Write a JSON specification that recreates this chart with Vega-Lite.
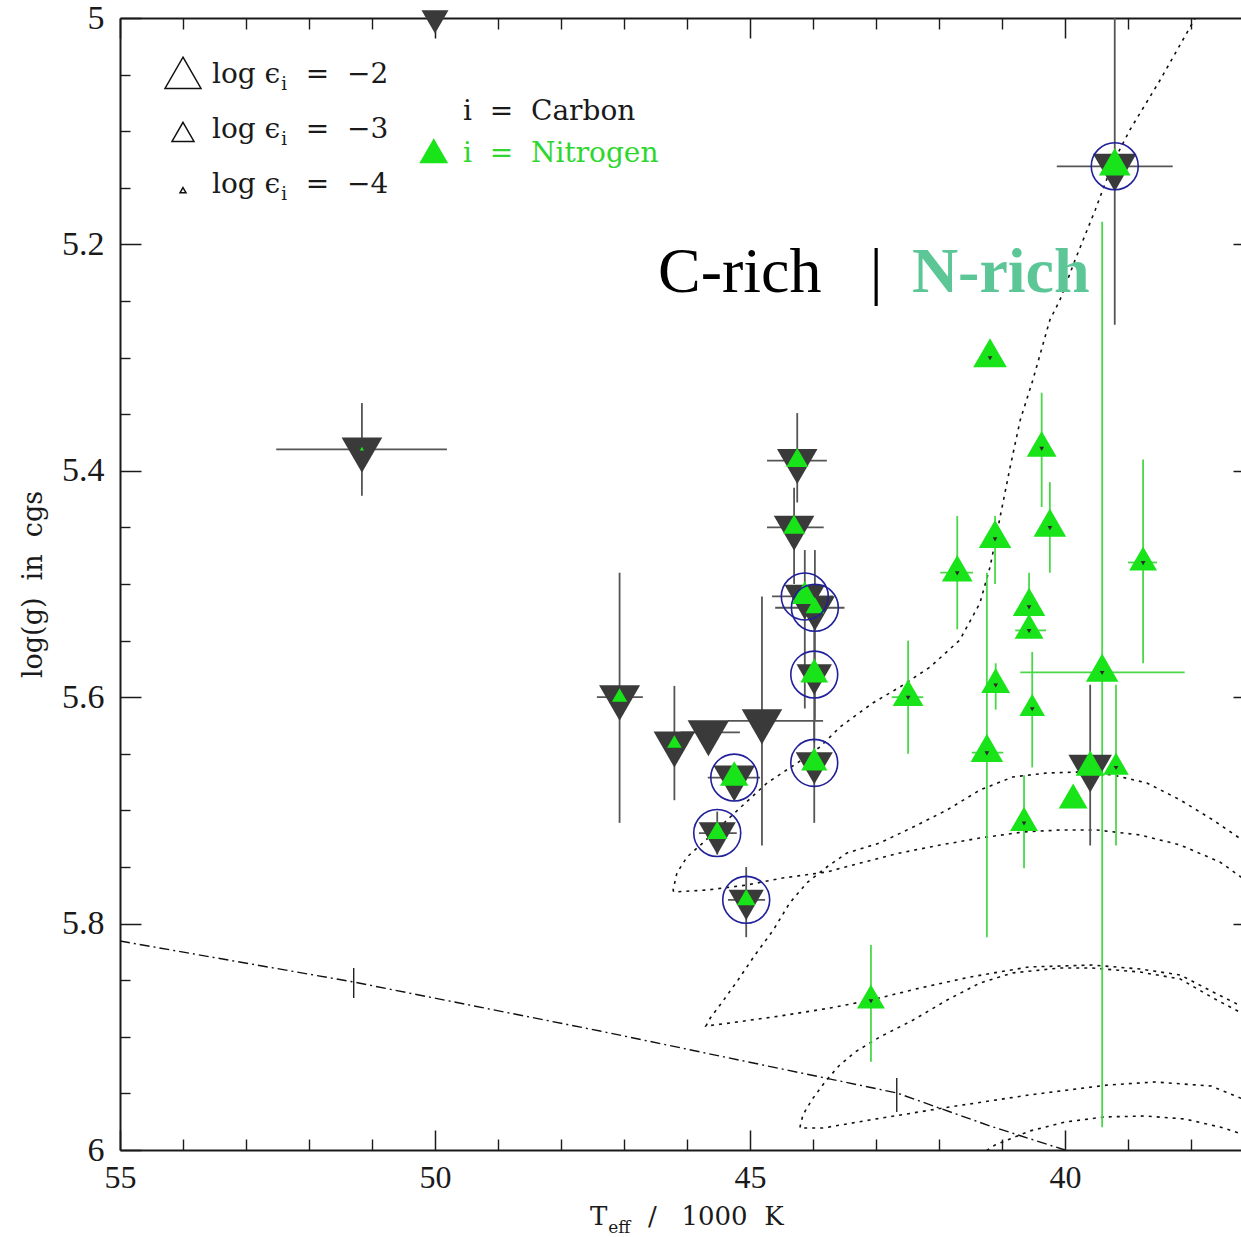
{
  "$schema": "https://vega.github.io/schema/vega-lite/v6.json",
  "width": 1121,
  "height": 1132,
  "autosize": {"type": "none"},
  "padding": {"left": 120, "top": 18, "right": 0, "bottom": 87},
  "background": "white",
  "config": {"view": {"stroke": null}, "axis": {"grid": false}},
  "resolve": {
    "scale": {"x": "independent", "y": "independent"},
    "axis": {"x": "independent", "y": "independent"}
  },
  "datasets": {
    "stars": [
      {"id": "S1", "type": "C", "T": 50.00, "g": 5.000, "logC": -2.7, "logN": -4.5, "ring": 0},
      {"id": "S2", "type": "C", "T": 51.16, "g": 5.381, "logC": -1.7, "logN": -4.2, "ring": 0},
      {"id": "S3", "type": "C", "T": 47.07, "g": 5.600, "logC": -1.68, "logN": -3.55, "ring": 0},
      {"id": "S4", "type": "C", "T": 46.20, "g": 5.641, "logC": -1.64, "logN": -3.6, "ring": 0},
      {"id": "S5", "type": "C", "T": 45.66, "g": 5.631, "logC": -1.64, "logN": -4.5, "ring": 0},
      {"id": "S6", "type": "C", "T": 44.81, "g": 5.621, "logC": -1.71, "logN": -4.5, "ring": 0},
      {"id": "S7", "type": "C", "T": 44.25, "g": 5.391, "logC": -1.71, "logN": -3.0, "ring": 0},
      {"id": "S8", "type": "C", "T": 44.30, "g": 5.450, "logC": -1.71, "logN": -3.0, "ring": 0},
      {"id": "S9", "type": "C", "T": 44.13, "g": 5.511, "logC": -1.71, "logN": -2.75, "ring": 1},
      {"id": "S10", "type": "C", "T": 43.97, "g": 5.521, "logC": -1.75, "logN": -3.3, "ring": 1},
      {"id": "S11", "type": "C", "T": 43.98, "g": 5.580, "logC": -2.05, "logN": -2.65, "ring": 1},
      {"id": "S12", "type": "C", "T": 43.98, "g": 5.658, "logC": -1.93, "logN": -2.75, "ring": 1},
      {"id": "S13", "type": "C", "T": 45.25, "g": 5.671, "logC": -1.64, "logN": -2.6, "ring": 1},
      {"id": "S14", "type": "C", "T": 45.52, "g": 5.720, "logC": -1.93, "logN": -3.13, "ring": 1},
      {"id": "S15", "type": "C", "T": 45.06, "g": 5.779, "logC": -2.07, "logN": -3.3, "ring": 1},
      {"id": "S16", "type": "C", "T": 39.21, "g": 5.131, "logC": -1.5, "logN": -2.36, "ring": 1},
      {"id": "S17", "type": "C", "T": 39.60, "g": 5.662, "logC": -1.5, "logN": -2.55, "ring": 0},
      {"id": "N1", "type": "N", "T": 41.19, "g": 5.300, "logC": -4.15, "logN": -2.2, "ring": 0},
      {"id": "N2", "type": "N", "T": 40.37, "g": 5.380, "logC": -4.15, "logN": -2.5, "ring": 0},
      {"id": "N3", "type": "N", "T": 40.24, "g": 5.450, "logC": -4.15, "logN": -2.29, "ring": 0},
      {"id": "N4", "type": "N", "T": 41.11, "g": 5.460, "logC": -4.15, "logN": -2.29, "ring": 0},
      {"id": "N5", "type": "N", "T": 41.71, "g": 5.490, "logC": -4.15, "logN": -2.43, "ring": 0},
      {"id": "N6", "type": "N", "T": 38.76, "g": 5.481, "logC": -4.15, "logN": -2.64, "ring": 0},
      {"id": "N7", "type": "N", "T": 40.57, "g": 5.520, "logC": -4.15, "logN": -2.29, "ring": 0},
      {"id": "N8", "type": "N", "T": 40.57, "g": 5.541, "logC": -4.15, "logN": -2.57, "ring": 0},
      {"id": "N9", "type": "N", "T": 42.49, "g": 5.600, "logC": -4.15, "logN": -2.43, "ring": 0},
      {"id": "N10", "type": "N", "T": 41.10, "g": 5.589, "logC": -4.15, "logN": -2.57, "ring": 0},
      {"id": "N11", "type": "N", "T": 40.52, "g": 5.610, "logC": -4.15, "logN": -2.79, "ring": 0},
      {"id": "N12", "type": "N", "T": 41.24, "g": 5.649, "logC": -4.15, "logN": -2.29, "ring": 0},
      {"id": "N13", "type": "N", "T": 39.41, "g": 5.578, "logC": -4.15, "logN": -2.29, "ring": 0},
      {"id": "N14", "type": "N", "T": 39.19, "g": 5.662, "logC": -4.15, "logN": -2.79, "ring": 0},
      {"id": "N15", "type": "N", "T": 39.87, "g": 5.691, "logC": -4.4, "logN": -2.57, "ring": 0},
      {"id": "N16", "type": "N", "T": 40.65, "g": 5.711, "logC": -4.15, "logN": -2.64, "ring": 0},
      {"id": "N17", "type": "N", "T": 43.08, "g": 5.868, "logC": -4.15, "logN": -2.64, "ring": 0}
    ],
    "vbars": [
      {"type": "C", "T": 51.16, "glo": 5.340, "ghi": 5.422},
      {"type": "C", "T": 47.07, "glo": 5.490, "ghi": 5.711},
      {"type": "C", "T": 46.20, "glo": 5.590, "ghi": 5.691},
      {"type": "C", "T": 44.81, "glo": 5.511, "ghi": 5.731},
      {"type": "C", "T": 44.25, "glo": 5.349, "ghi": 5.428},
      {"type": "C", "T": 44.30, "glo": 5.415, "ghi": 5.500},
      {"type": "C", "T": 44.13, "glo": 5.470, "ghi": 5.610},
      {"type": "C", "T": 43.97, "glo": 5.470, "ghi": 5.620},
      {"type": "C", "T": 43.98, "glo": 5.530, "ghi": 5.640},
      {"type": "C", "T": 43.98, "glo": 5.620, "ghi": 5.711},
      {"type": "C", "T": 45.52, "glo": 5.701, "ghi": 5.739},
      {"type": "C", "T": 45.06, "glo": 5.750, "ghi": 5.812},
      {"type": "C", "T": 39.21, "glo": 5.000, "ghi": 5.271},
      {"type": "C", "T": 39.60, "glo": 5.589, "ghi": 5.731},
      {"type": "N", "T": 40.37, "glo": 5.331, "ghi": 5.432},
      {"type": "N", "T": 40.24, "glo": 5.410, "ghi": 5.490},
      {"type": "N", "T": 41.11, "glo": 5.440, "ghi": 5.500},
      {"type": "N", "T": 41.71, "glo": 5.440, "ghi": 5.540},
      {"type": "N", "T": 38.76, "glo": 5.390, "ghi": 5.570},
      {"type": "N", "T": 40.57, "glo": 5.490, "ghi": 5.540},
      {"type": "N", "T": 42.49, "glo": 5.550, "ghi": 5.650},
      {"type": "N", "T": 41.10, "glo": 5.570, "ghi": 5.611},
      {"type": "N", "T": 40.52, "glo": 5.560, "ghi": 5.662},
      {"type": "N", "T": 41.24, "glo": 5.490, "ghi": 5.812},
      {"type": "N", "T": 39.41, "glo": 5.180, "ghi": 5.980},
      {"type": "N", "T": 39.19, "glo": 5.589, "ghi": 5.731},
      {"type": "N", "T": 40.65, "glo": 5.669, "ghi": 5.751},
      {"type": "N", "T": 43.08, "glo": 5.819, "ghi": 5.922}
    ],
    "hbars": [
      {"type": "C", "g": 5.381, "Tlo": 52.52, "Thi": 49.81},
      {"type": "C", "g": 5.600, "Tlo": 47.43, "Thi": 46.70},
      {"type": "C", "g": 5.631, "Tlo": 46.10, "Thi": 45.16},
      {"type": "C", "g": 5.621, "Tlo": 45.35, "Thi": 43.84},
      {"type": "C", "g": 5.391, "Tlo": 44.73, "Thi": 43.78},
      {"type": "C", "g": 5.450, "Tlo": 44.73, "Thi": 43.83},
      {"type": "C", "g": 5.511, "Tlo": 44.65, "Thi": 43.68},
      {"type": "C", "g": 5.521, "Tlo": 44.60, "Thi": 43.50},
      {"type": "C", "g": 5.671, "Tlo": 45.67, "Thi": 44.84},
      {"type": "C", "g": 5.720, "Tlo": 45.81, "Thi": 45.21},
      {"type": "C", "g": 5.779, "Tlo": 45.35, "Thi": 44.76},
      {"type": "C", "g": 5.131, "Tlo": 40.13, "Thi": 38.29},
      {"type": "N", "g": 5.490, "Tlo": 41.98, "Thi": 41.46},
      {"type": "N", "g": 5.481, "Tlo": 39.00, "Thi": 38.54},
      {"type": "N", "g": 5.541, "Tlo": 40.79, "Thi": 40.30},
      {"type": "N", "g": 5.600, "Tlo": 42.75, "Thi": 42.25},
      {"type": "N", "g": 5.649, "Tlo": 41.48, "Thi": 40.98},
      {"type": "N", "g": 5.578, "Tlo": 40.71, "Thi": 38.10}
    ],
    "tracks": [
      {"t": "A", "k": 1, "T": 37.86, "g": 4.993}, {"t": "A", "k": 2, "T": 38.49, "g": 5.0548},
      {"t": "A", "k": 3, "T": 38.97, "g": 5.0989}, {"t": "A", "k": 4, "T": 39.24, "g": 5.1281},
      {"t": "A", "k": 5, "T": 39.52, "g": 5.1696}, {"t": "A", "k": 6, "T": 39.84, "g": 5.2138},
      {"t": "A", "k": 7, "T": 40.08, "g": 5.2491}, {"t": "A", "k": 8, "T": 40.24, "g": 5.2668},
      {"t": "A", "k": 9, "T": 40.51, "g": 5.3198}, {"t": "A", "k": 10, "T": 40.71, "g": 5.3551},
      {"t": "A", "k": 11, "T": 40.87, "g": 5.3966}, {"t": "A", "k": 12, "T": 41.03, "g": 5.4408},
      {"t": "A", "k": 13, "T": 41.19, "g": 5.4850}, {"t": "A", "k": 14, "T": 41.35, "g": 5.5168},
      {"t": "A", "k": 15, "T": 41.67, "g": 5.5495}, {"t": "A", "k": 16, "T": 42.14, "g": 5.5733},
      {"t": "A", "k": 17, "T": 42.62, "g": 5.5910}, {"t": "A", "k": 18, "T": 43.05, "g": 5.6051},
      {"t": "A", "k": 19, "T": 43.57, "g": 5.6263}, {"t": "A", "k": 20, "T": 43.89, "g": 5.6440},
      {"t": "A", "k": 21, "T": 44.25, "g": 5.6581}, {"t": "A", "k": 22, "T": 44.73, "g": 5.6758},
      {"t": "A", "k": 23, "T": 45.16, "g": 5.6979}, {"t": "A", "k": 24, "T": 45.75, "g": 5.7288},
      {"t": "A", "k": 25, "T": 46.00, "g": 5.7412}, {"t": "A", "k": 26, "T": 46.16, "g": 5.7553},
      {"t": "A", "k": 27, "T": 46.22, "g": 5.7703}, {"t": "A", "k": 28, "T": 46.21, "g": 5.7721},
      {"t": "A", "k": 29, "T": 45.68, "g": 5.7703}, {"t": "A", "k": 30, "T": 45.05, "g": 5.7659},
      {"t": "A", "k": 31, "T": 44.48, "g": 5.7597}, {"t": "A", "k": 32, "T": 43.78, "g": 5.7544},
      {"t": "A", "k": 33, "T": 43.25, "g": 5.7465}, {"t": "A", "k": 34, "T": 42.62, "g": 5.7376},
      {"t": "A", "k": 35, "T": 41.98, "g": 5.7306}, {"t": "A", "k": 36, "T": 41.35, "g": 5.7244},
      {"t": "A", "k": 37, "T": 40.67, "g": 5.7191}, {"t": "A", "k": 38, "T": 40.08, "g": 5.7173},
      {"t": "A", "k": 39, "T": 39.49, "g": 5.7173}, {"t": "A", "k": 40, "T": 38.81, "g": 5.7217},
      {"t": "A", "k": 41, "T": 38.17, "g": 5.7306}, {"t": "A", "k": 42, "T": 37.54, "g": 5.7456},
      {"t": "A", "k": 43, "T": 37.14, "g": 5.7615},
      {"t": "B", "k": 1, "T": 37.14, "g": 5.7279}, {"t": "B", "k": 2, "T": 37.65, "g": 5.7085},
      {"t": "B", "k": 3, "T": 38.17, "g": 5.6908}, {"t": "B", "k": 4, "T": 38.70, "g": 5.6758},
      {"t": "B", "k": 5, "T": 39.24, "g": 5.6687}, {"t": "B", "k": 6, "T": 39.76, "g": 5.6661},
      {"t": "B", "k": 7, "T": 40.29, "g": 5.6670}, {"t": "B", "k": 8, "T": 40.83, "g": 5.6705},
      {"t": "B", "k": 9, "T": 41.35, "g": 5.6820}, {"t": "B", "k": 10, "T": 41.87, "g": 5.6996},
      {"t": "B", "k": 11, "T": 42.41, "g": 5.7147}, {"t": "B", "k": 12, "T": 42.94, "g": 5.7288},
      {"t": "B", "k": 13, "T": 43.46, "g": 5.7376}, {"t": "B", "k": 14, "T": 43.78, "g": 5.7500},
      {"t": "B", "k": 15, "T": 44.10, "g": 5.7641}, {"t": "B", "k": 16, "T": 44.37, "g": 5.7818},
      {"t": "B", "k": 17, "T": 44.63, "g": 5.8057}, {"t": "B", "k": 18, "T": 44.92, "g": 5.8277},
      {"t": "B", "k": 19, "T": 45.19, "g": 5.8498}, {"t": "B", "k": 20, "T": 45.44, "g": 5.8693},
      {"t": "B", "k": 21, "T": 45.63, "g": 5.8834}, {"t": "B", "k": 22, "T": 45.70, "g": 5.8905},
      {"t": "B", "k": 23, "T": 45.32, "g": 5.8878}, {"t": "B", "k": 24, "T": 44.52, "g": 5.8816},
      {"t": "B", "k": 25, "T": 43.73, "g": 5.8746}, {"t": "B", "k": 26, "T": 43.08, "g": 5.8675},
      {"t": "B", "k": 27, "T": 42.30, "g": 5.8569}, {"t": "B", "k": 28, "T": 41.51, "g": 5.8472},
      {"t": "B", "k": 29, "T": 40.57, "g": 5.8383}, {"t": "B", "k": 30, "T": 39.57, "g": 5.8366},
      {"t": "B", "k": 31, "T": 38.81, "g": 5.8401}, {"t": "B", "k": 32, "T": 38.17, "g": 5.8454},
      {"t": "B", "k": 33, "T": 37.65, "g": 5.8604}, {"t": "B", "k": 34, "T": 37.14, "g": 5.8746},
      {"t": "C", "k": 1, "T": 37.14, "g": 5.8807}, {"t": "C", "k": 2, "T": 37.65, "g": 5.8657},
      {"t": "C", "k": 3, "T": 38.17, "g": 5.8489}, {"t": "C", "k": 4, "T": 38.81, "g": 5.8428},
      {"t": "C", "k": 5, "T": 39.57, "g": 5.8392}, {"t": "C", "k": 6, "T": 40.08, "g": 5.8392},
      {"t": "C", "k": 7, "T": 40.83, "g": 5.8436}, {"t": "C", "k": 8, "T": 41.35, "g": 5.8525},
      {"t": "C", "k": 9, "T": 41.87, "g": 5.8675}, {"t": "C", "k": 10, "T": 42.41, "g": 5.8852},
      {"t": "C", "k": 11, "T": 42.94, "g": 5.9002}, {"t": "C", "k": 12, "T": 43.33, "g": 5.9134},
      {"t": "C", "k": 13, "T": 43.59, "g": 5.9258}, {"t": "C", "k": 14, "T": 43.81, "g": 5.9399},
      {"t": "C", "k": 15, "T": 44.02, "g": 5.9558}, {"t": "C", "k": 16, "T": 44.16, "g": 5.9691},
      {"t": "C", "k": 17, "T": 44.21, "g": 5.9806}, {"t": "C", "k": 18, "T": 43.84, "g": 5.9806},
      {"t": "C", "k": 19, "T": 43.10, "g": 5.9735}, {"t": "C", "k": 20, "T": 41.83, "g": 5.9620},
      {"t": "C", "k": 21, "T": 40.57, "g": 5.9514}, {"t": "C", "k": 22, "T": 39.32, "g": 5.9426},
      {"t": "C", "k": 23, "T": 38.57, "g": 5.9399}, {"t": "C", "k": 24, "T": 37.68, "g": 5.9435},
      {"t": "C", "k": 25, "T": 37.14, "g": 5.9558},
      {"t": "D", "k": 1, "T": 41.35, "g": 6.0044}, {"t": "D", "k": 2, "T": 41.11, "g": 5.9956},
      {"t": "D", "k": 3, "T": 40.56, "g": 5.9832}, {"t": "D", "k": 4, "T": 40.00, "g": 5.9753},
      {"t": "D", "k": 5, "T": 39.37, "g": 5.9708}, {"t": "D", "k": 6, "T": 38.73, "g": 5.9700},
      {"t": "D", "k": 7, "T": 38.10, "g": 5.9726}, {"t": "D", "k": 8, "T": 37.54, "g": 5.9797},
      {"t": "D", "k": 9, "T": 37.14, "g": 5.9867}
    ],
    "zaehb": [
      {"k": 1, "T": 55.00, "g": 5.8154},
      {"k": 2, "T": 51.29, "g": 5.8516},
      {"k": 3, "T": 47.38, "g": 5.8949},
      {"k": 4, "T": 42.67, "g": 5.9496},
      {"k": 5, "T": 41.19, "g": 5.9788},
      {"k": 6, "T": 40.00, "g": 6.0000}
    ],
    "zticks": [
      {"T": 51.29, "glo": 5.8392, "ghi": 5.8657},
      {"T": 42.67, "glo": 5.9364, "ghi": 5.9664}
    ],
    "keySymbols": [
      {"T": 54.0, "g": 5.0530, "eps": -2},
      {"T": 54.0, "g": 5.1034, "eps": -3},
      {"T": 54.0, "g": 5.1528, "eps": -4}
    ],
    "keyNitrogen": [
      {"T": 50.02, "g": 5.121, "eps": -2.57}
    ],
    "keyText": [
      {"T": 53.54, "g": 5.0574, "s": "log\u00a0\u03f5"},
      {"T": 52.05, "g": 5.0574, "s": "=\u00a0\u00a0\u22122"},
      {"T": 53.54, "g": 5.1060, "s": "log\u00a0\u03f5"},
      {"T": 52.05, "g": 5.1060, "s": "=\u00a0\u00a0\u22123"},
      {"T": 53.54, "g": 5.1546, "s": "log\u00a0\u03f5"},
      {"T": 52.05, "g": 5.1546, "s": "=\u00a0\u00a0\u22124"},
      {"T": 49.556, "g": 5.0901, "s": "i\u00a0\u00a0=\u00a0\u00a0Carbon"}
    ],
    "keySub": [
      {"T": 52.44, "g": 5.0636, "s": "i"},
      {"T": 52.44, "g": 5.1122, "s": "i"},
      {"T": 52.44, "g": 5.1608, "s": "i"}
    ],
    "keyNitrogenText": [
      {"T": 49.556, "g": 5.1272, "s": "i\u00a0\u00a0=\u00a0\u00a0Nitrogen"}
    ],
    "regionText": [
      {"T": 46.46, "g": 5.242, "s": "C-rich"},
      {"T": 43.10, "g": 5.242, "s": "|"}
    ],
    "regionTextN": [
      {"T": 42.43, "g": 5.242, "s": "N-rich"}
    ],
    "xTitle": [
      {"T": 47.54, "g": 6.0663, "s": "T"},
      {"T": 46.62, "g": 6.0663, "s": "/\u00a0\u00a0\u00a01000\u00a0\u00a0K"}
    ],
    "xTitleSub": [
      {"T": 47.25, "g": 6.0735, "s": "eff"}
    ]
  },
  "layer": [
    {
      "data": {"name": "tracks"},
      "mark": {"type": "line", "clip": true, "color": "#111111", "strokeWidth": 1.6, "strokeDash": [3, 5]},
      "encoding": {
        "x": {"field": "T", "type": "quantitative",
              "scale": {"domain": [37.206, 55], "reverse": true, "nice": false, "zero": false},
              "axis": {"orient": "bottom", "values": [55, 50, 45, 40], "format": "~g", "ticks": false,
                       "domain": true, "domainColor": "#1a1a1a", "domainWidth": 2,
                       "labelFont": "Liberation Serif", "labelFontSize": 32, "labelColor": "#1a1a1a",
                       "labelPadding": 12, "labelFlush": false, "labelOverlap": false, "labelBound": false,
                       "grid": false, "title": null}},
        "y": {"field": "g", "type": "quantitative",
              "scale": {"domain": [5, 6], "reverse": true, "nice": false, "zero": false},
              "axis": {"orient": "left", "values": [5, 5.2, 5.4, 5.6, 5.8, 6], "format": "~g", "ticks": false,
                       "domain": true, "domainColor": "#1a1a1a", "domainWidth": 2,
                       "labelFont": "Liberation Serif", "labelFontSize": 34, "labelColor": "#1a1a1a",
                       "labelPadding": 16, "labelFlush": false, "labelOverlap": false, "labelBound": false,
                       "grid": false,
                       "title": "log(g)\u00a0\u00a0in\u00a0\u00a0cgs", "titleFont": "DejaVu Serif", "titleFontSize": 27,
                       "titleFontWeight": "normal", "titleColor": "#1a1a1a", "titlePadding": 14}},
        "detail": {"field": "t"},
        "order": {"field": "k", "type": "quantitative"}
      }
    },
    {
      "data": {"name": "zaehb"},
      "mark": {"type": "line", "clip": true, "color": "#111111", "strokeWidth": 1.4, "strokeDash": [10, 4, 2, 4]},
      "encoding": {
        "x": {"field": "T", "type": "quantitative",
              "scale": {"domain": [37.206, 55], "reverse": true, "nice": false, "zero": false},
              "axis": {"orient": "bottom", "values": [55, 50, 45, 40], "labels": false, "domain": false,
                       "ticks": true, "tickSize": -20, "tickWidth": 1.5, "tickColor": "#1a1a1a",
                       "grid": false, "title": null}},
        "y": {"field": "g", "type": "quantitative",
              "scale": {"domain": [5, 6], "reverse": true, "nice": false, "zero": false},
              "axis": {"orient": "left", "values": [5, 5.2, 5.4, 5.6, 5.8, 6], "labels": false, "domain": false,
                       "ticks": true, "tickSize": -21, "tickWidth": 1.5, "tickColor": "#1a1a1a",
                       "grid": false, "title": null}},
        "order": {"field": "k", "type": "quantitative"}
      }
    },
    {
      "data": {"name": "zticks"},
      "mark": {"type": "rule", "color": "#111111", "strokeWidth": 1.3},
      "encoding": {
        "x": {"field": "T", "type": "quantitative",
              "scale": {"domain": [37.206, 55], "reverse": true, "nice": false, "zero": false}, "axis": null},
        "y": {"field": "glo", "type": "quantitative",
              "scale": {"domain": [5, 6], "reverse": true, "nice": false, "zero": false}, "axis": null},
        "y2": {"field": "ghi"}
      }
    },
    {
      "data": {"name": "vbars"},
      "mark": {"type": "rule", "strokeWidth": 1.8},
      "encoding": {
        "x": {"field": "T", "type": "quantitative",
              "scale": {"domain": [37.206, 55], "reverse": true, "nice": false, "zero": false},
              "axis": {"orient": "bottom", "values": [38, 39, 41, 42, 43, 44, 46, 47, 48, 49, 51, 52, 53, 54],
                       "labels": false, "domain": false, "ticks": true, "tickSize": -11, "tickWidth": 1.4,
                       "tickColor": "#1a1a1a", "grid": false, "title": null}},
        "y": {"field": "glo", "type": "quantitative",
              "scale": {"domain": [5, 6], "reverse": true, "nice": false, "zero": false},
              "axis": {"orient": "left",
                       "values": [5.05, 5.1, 5.15, 5.25, 5.3, 5.35, 5.45, 5.5, 5.55, 5.65, 5.7, 5.75, 5.85, 5.9, 5.95],
                       "labels": false, "domain": false, "ticks": true, "tickSize": -10, "tickWidth": 1.4,
                       "tickColor": "#1a1a1a", "grid": false, "title": null}},
        "y2": {"field": "ghi"},
        "color": {"field": "type", "type": "nominal",
                  "scale": {"domain": ["C", "N"], "range": ["#555555", "#4ad84a"]}, "legend": null}
      }
    },
    {
      "data": {"name": "hbars"},
      "mark": {"type": "rule", "strokeWidth": 1.8},
      "encoding": {
        "x": {"field": "Tlo", "type": "quantitative",
              "scale": {"domain": [37.206, 55], "reverse": true, "nice": false, "zero": false},
              "axis": {"orient": "top", "values": [55, 50, 45, 40], "labels": false,
                       "domain": true, "domainColor": "#1a1a1a", "domainWidth": 2,
                       "ticks": true, "tickSize": -20, "tickWidth": 1.5, "tickColor": "#1a1a1a",
                       "grid": false, "title": null}},
        "x2": {"field": "Thi"},
        "y": {"field": "g", "type": "quantitative",
              "scale": {"domain": [5, 6], "reverse": true, "nice": false, "zero": false},
              "axis": {"orient": "right", "values": [5.2, 5.4, 5.6, 5.8], "labels": false, "domain": false,
                       "ticks": true, "tickSize": -8, "tickWidth": 1.5, "tickColor": "#1a1a1a",
                       "grid": false, "title": null}},
        "color": {"field": "type", "type": "nominal",
                  "scale": {"domain": ["C", "N"], "range": ["#555555", "#4ad84a"]}, "legend": null}
      }
    },
    {
      "data": {"name": "stars"},
      "mark": {"type": "point", "shape": "M0,1L0.866,-0.5L-0.866,-0.5Z", "filled": true,
               "fill": "#3a3a3a", "strokeWidth": 0, "opacity": 1},
      "encoding": {
        "x": {"field": "T", "type": "quantitative",
              "scale": {"domain": [37.206, 55], "reverse": true, "nice": false, "zero": false},
              "axis": {"orient": "top", "values": [38, 39, 41, 42, 43, 44, 46, 47, 48, 49, 51, 52, 53, 54],
                       "labels": false, "domain": false, "ticks": true, "tickSize": -11, "tickWidth": 1.4,
                       "tickColor": "#1a1a1a", "grid": false, "title": null}},
        "y": {"field": "g", "type": "quantitative",
              "scale": {"domain": [5, 6], "reverse": true, "nice": false, "zero": false}, "axis": null},
        "size": {"field": "logC", "type": "quantitative",
                 "scale": {"type": "linear", "domain": [-4.4, -4, -3, -2, -1], "range": [0, 48, 645, 1728, 3333],
                           "clamp": true, "zero": false, "nice": false}, "legend": null}
      }
    },
    {
      "data": {"name": "stars"},
      "mark": {"type": "point", "shape": "M0,-1L0.866,0.5L-0.866,0.5Z", "filled": true,
               "fill": "#19e319", "strokeWidth": 0, "opacity": 1},
      "encoding": {
        "x": {"field": "T", "type": "quantitative",
              "scale": {"domain": [37.206, 55], "reverse": true, "nice": false, "zero": false}, "axis": null},
        "y": {"field": "g", "type": "quantitative",
              "scale": {"domain": [5, 6], "reverse": true, "nice": false, "zero": false}, "axis": null},
        "size": {"field": "logN", "type": "quantitative",
                 "scale": {"type": "linear", "domain": [-4.4, -4, -3, -2, -1], "range": [0, 48, 645, 1728, 3333],
                           "clamp": true, "zero": false, "nice": false}, "legend": null}
      }
    },
    {
      "data": {"name": "stars"},
      "transform": [{"filter": "datum.type == 'N'"}],
      "mark": {"type": "point", "shape": "M0,1L0.866,-0.5L-0.866,-0.5Z", "filled": true,
               "fill": "#2a2a2a", "strokeWidth": 0, "opacity": 1},
      "encoding": {
        "x": {"field": "T", "type": "quantitative",
              "scale": {"domain": [37.206, 55], "reverse": true, "nice": false, "zero": false}, "axis": null},
        "y": {"field": "g", "type": "quantitative",
              "scale": {"domain": [5, 6], "reverse": true, "nice": false, "zero": false}, "axis": null},
        "size": {"field": "logC", "type": "quantitative",
                 "scale": {"type": "linear", "domain": [-4.4, -4, -3, -2, -1], "range": [0, 48, 645, 1728, 3333],
                           "clamp": true, "zero": false, "nice": false}, "legend": null}
      }
    },
    {
      "data": {"name": "stars"},
      "transform": [{"filter": "datum.ring == 1"}],
      "mark": {"type": "point", "shape": "circle", "filled": false, "stroke": "#20209a",
               "strokeWidth": 1.6, "size": 2206, "opacity": 1},
      "encoding": {
        "x": {"field": "T", "type": "quantitative",
              "scale": {"domain": [37.206, 55], "reverse": true, "nice": false, "zero": false}, "axis": null},
        "y": {"field": "g", "type": "quantitative",
              "scale": {"domain": [5, 6], "reverse": true, "nice": false, "zero": false}, "axis": null}
      }
    },
    {
      "data": {"name": "keySymbols"},
      "mark": {"type": "point", "shape": "M0,-1L0.866,0.5L-0.866,0.5Z", "filled": false,
               "stroke": "#111111", "strokeWidth": 1.5, "opacity": 1},
      "encoding": {
        "x": {"field": "T", "type": "quantitative",
              "scale": {"domain": [37.206, 55], "reverse": true, "nice": false, "zero": false}, "axis": null},
        "y": {"field": "g", "type": "quantitative",
              "scale": {"domain": [5, 6], "reverse": true, "nice": false, "zero": false}, "axis": null},
        "size": {"field": "eps", "type": "quantitative",
                 "scale": {"type": "linear", "domain": [-4.4, -4, -3, -2, -1], "range": [0, 48, 645, 1728, 3333],
                           "clamp": true, "zero": false, "nice": false}, "legend": null}
      }
    },
    {
      "data": {"name": "keyNitrogen"},
      "mark": {"type": "point", "shape": "M0,-1L0.866,0.5L-0.866,0.5Z", "filled": true,
               "fill": "#19e319", "strokeWidth": 0, "opacity": 1},
      "encoding": {
        "x": {"field": "T", "type": "quantitative",
              "scale": {"domain": [37.206, 55], "reverse": true, "nice": false, "zero": false}, "axis": null},
        "y": {"field": "g", "type": "quantitative",
              "scale": {"domain": [5, 6], "reverse": true, "nice": false, "zero": false}, "axis": null},
        "size": {"field": "eps", "type": "quantitative",
                 "scale": {"type": "linear", "domain": [-4.4, -4, -3, -2, -1], "range": [0, 48, 645, 1728, 3333],
                           "clamp": true, "zero": false, "nice": false}, "legend": null}
      }
    },
    {
      "data": {"name": "keyText"},
      "mark": {"type": "text", "font": "DejaVu Serif", "fontSize": 28, "align": "left",
               "baseline": "alphabetic", "color": "#1a1a1a"},
      "encoding": {
        "x": {"field": "T", "type": "quantitative",
              "scale": {"domain": [37.206, 55], "reverse": true, "nice": false, "zero": false}, "axis": null},
        "y": {"field": "g", "type": "quantitative",
              "scale": {"domain": [5, 6], "reverse": true, "nice": false, "zero": false}, "axis": null},
        "text": {"field": "s"}
      }
    },
    {
      "data": {"name": "keySub"},
      "mark": {"type": "text", "font": "DejaVu Serif", "fontSize": 18, "align": "left",
               "baseline": "alphabetic", "color": "#1a1a1a"},
      "encoding": {
        "x": {"field": "T", "type": "quantitative",
              "scale": {"domain": [37.206, 55], "reverse": true, "nice": false, "zero": false}, "axis": null},
        "y": {"field": "g", "type": "quantitative",
              "scale": {"domain": [5, 6], "reverse": true, "nice": false, "zero": false}, "axis": null},
        "text": {"field": "s"}
      }
    },
    {
      "data": {"name": "keyNitrogenText"},
      "mark": {"type": "text", "font": "DejaVu Serif", "fontSize": 28, "align": "left",
               "baseline": "alphabetic", "color": "#2fd62f"},
      "encoding": {
        "x": {"field": "T", "type": "quantitative",
              "scale": {"domain": [37.206, 55], "reverse": true, "nice": false, "zero": false}, "axis": null},
        "y": {"field": "g", "type": "quantitative",
              "scale": {"domain": [5, 6], "reverse": true, "nice": false, "zero": false}, "axis": null},
        "text": {"field": "s"}
      }
    },
    {
      "data": {"name": "regionText"},
      "mark": {"type": "text", "font": "Liberation Serif", "fontSize": 64, "align": "left",
               "baseline": "alphabetic", "color": "#000000"},
      "encoding": {
        "x": {"field": "T", "type": "quantitative",
              "scale": {"domain": [37.206, 55], "reverse": true, "nice": false, "zero": false}, "axis": null},
        "y": {"field": "g", "type": "quantitative",
              "scale": {"domain": [5, 6], "reverse": true, "nice": false, "zero": false}, "axis": null},
        "text": {"field": "s"}
      }
    },
    {
      "data": {"name": "regionTextN"},
      "mark": {"type": "text", "font": "Liberation Serif", "fontSize": 64, "fontWeight": "bold",
               "align": "left", "baseline": "alphabetic", "color": "#5cc697"},
      "encoding": {
        "x": {"field": "T", "type": "quantitative",
              "scale": {"domain": [37.206, 55], "reverse": true, "nice": false, "zero": false}, "axis": null},
        "y": {"field": "g", "type": "quantitative",
              "scale": {"domain": [5, 6], "reverse": true, "nice": false, "zero": false}, "axis": null},
        "text": {"field": "s"}
      }
    },
    {
      "data": {"name": "xTitle"},
      "mark": {"type": "text", "font": "DejaVu Serif", "fontSize": 26, "align": "left",
               "baseline": "alphabetic", "color": "#1a1a1a"},
      "encoding": {
        "x": {"field": "T", "type": "quantitative",
              "scale": {"domain": [37.206, 55], "reverse": true, "nice": false, "zero": false}, "axis": null},
        "y": {"field": "g", "type": "quantitative",
              "scale": {"domain": [5, 6], "reverse": true, "nice": false, "zero": false}, "axis": null},
        "text": {"field": "s"}
      }
    },
    {
      "data": {"name": "xTitleSub"},
      "mark": {"type": "text", "font": "DejaVu Serif", "fontSize": 17, "align": "left",
               "baseline": "alphabetic", "color": "#1a1a1a"},
      "encoding": {
        "x": {"field": "T", "type": "quantitative",
              "scale": {"domain": [37.206, 55], "reverse": true, "nice": false, "zero": false}, "axis": null},
        "y": {"field": "g", "type": "quantitative",
              "scale": {"domain": [5, 6], "reverse": true, "nice": false, "zero": false}, "axis": null},
        "text": {"field": "s"}
      }
    }
  ]
}
